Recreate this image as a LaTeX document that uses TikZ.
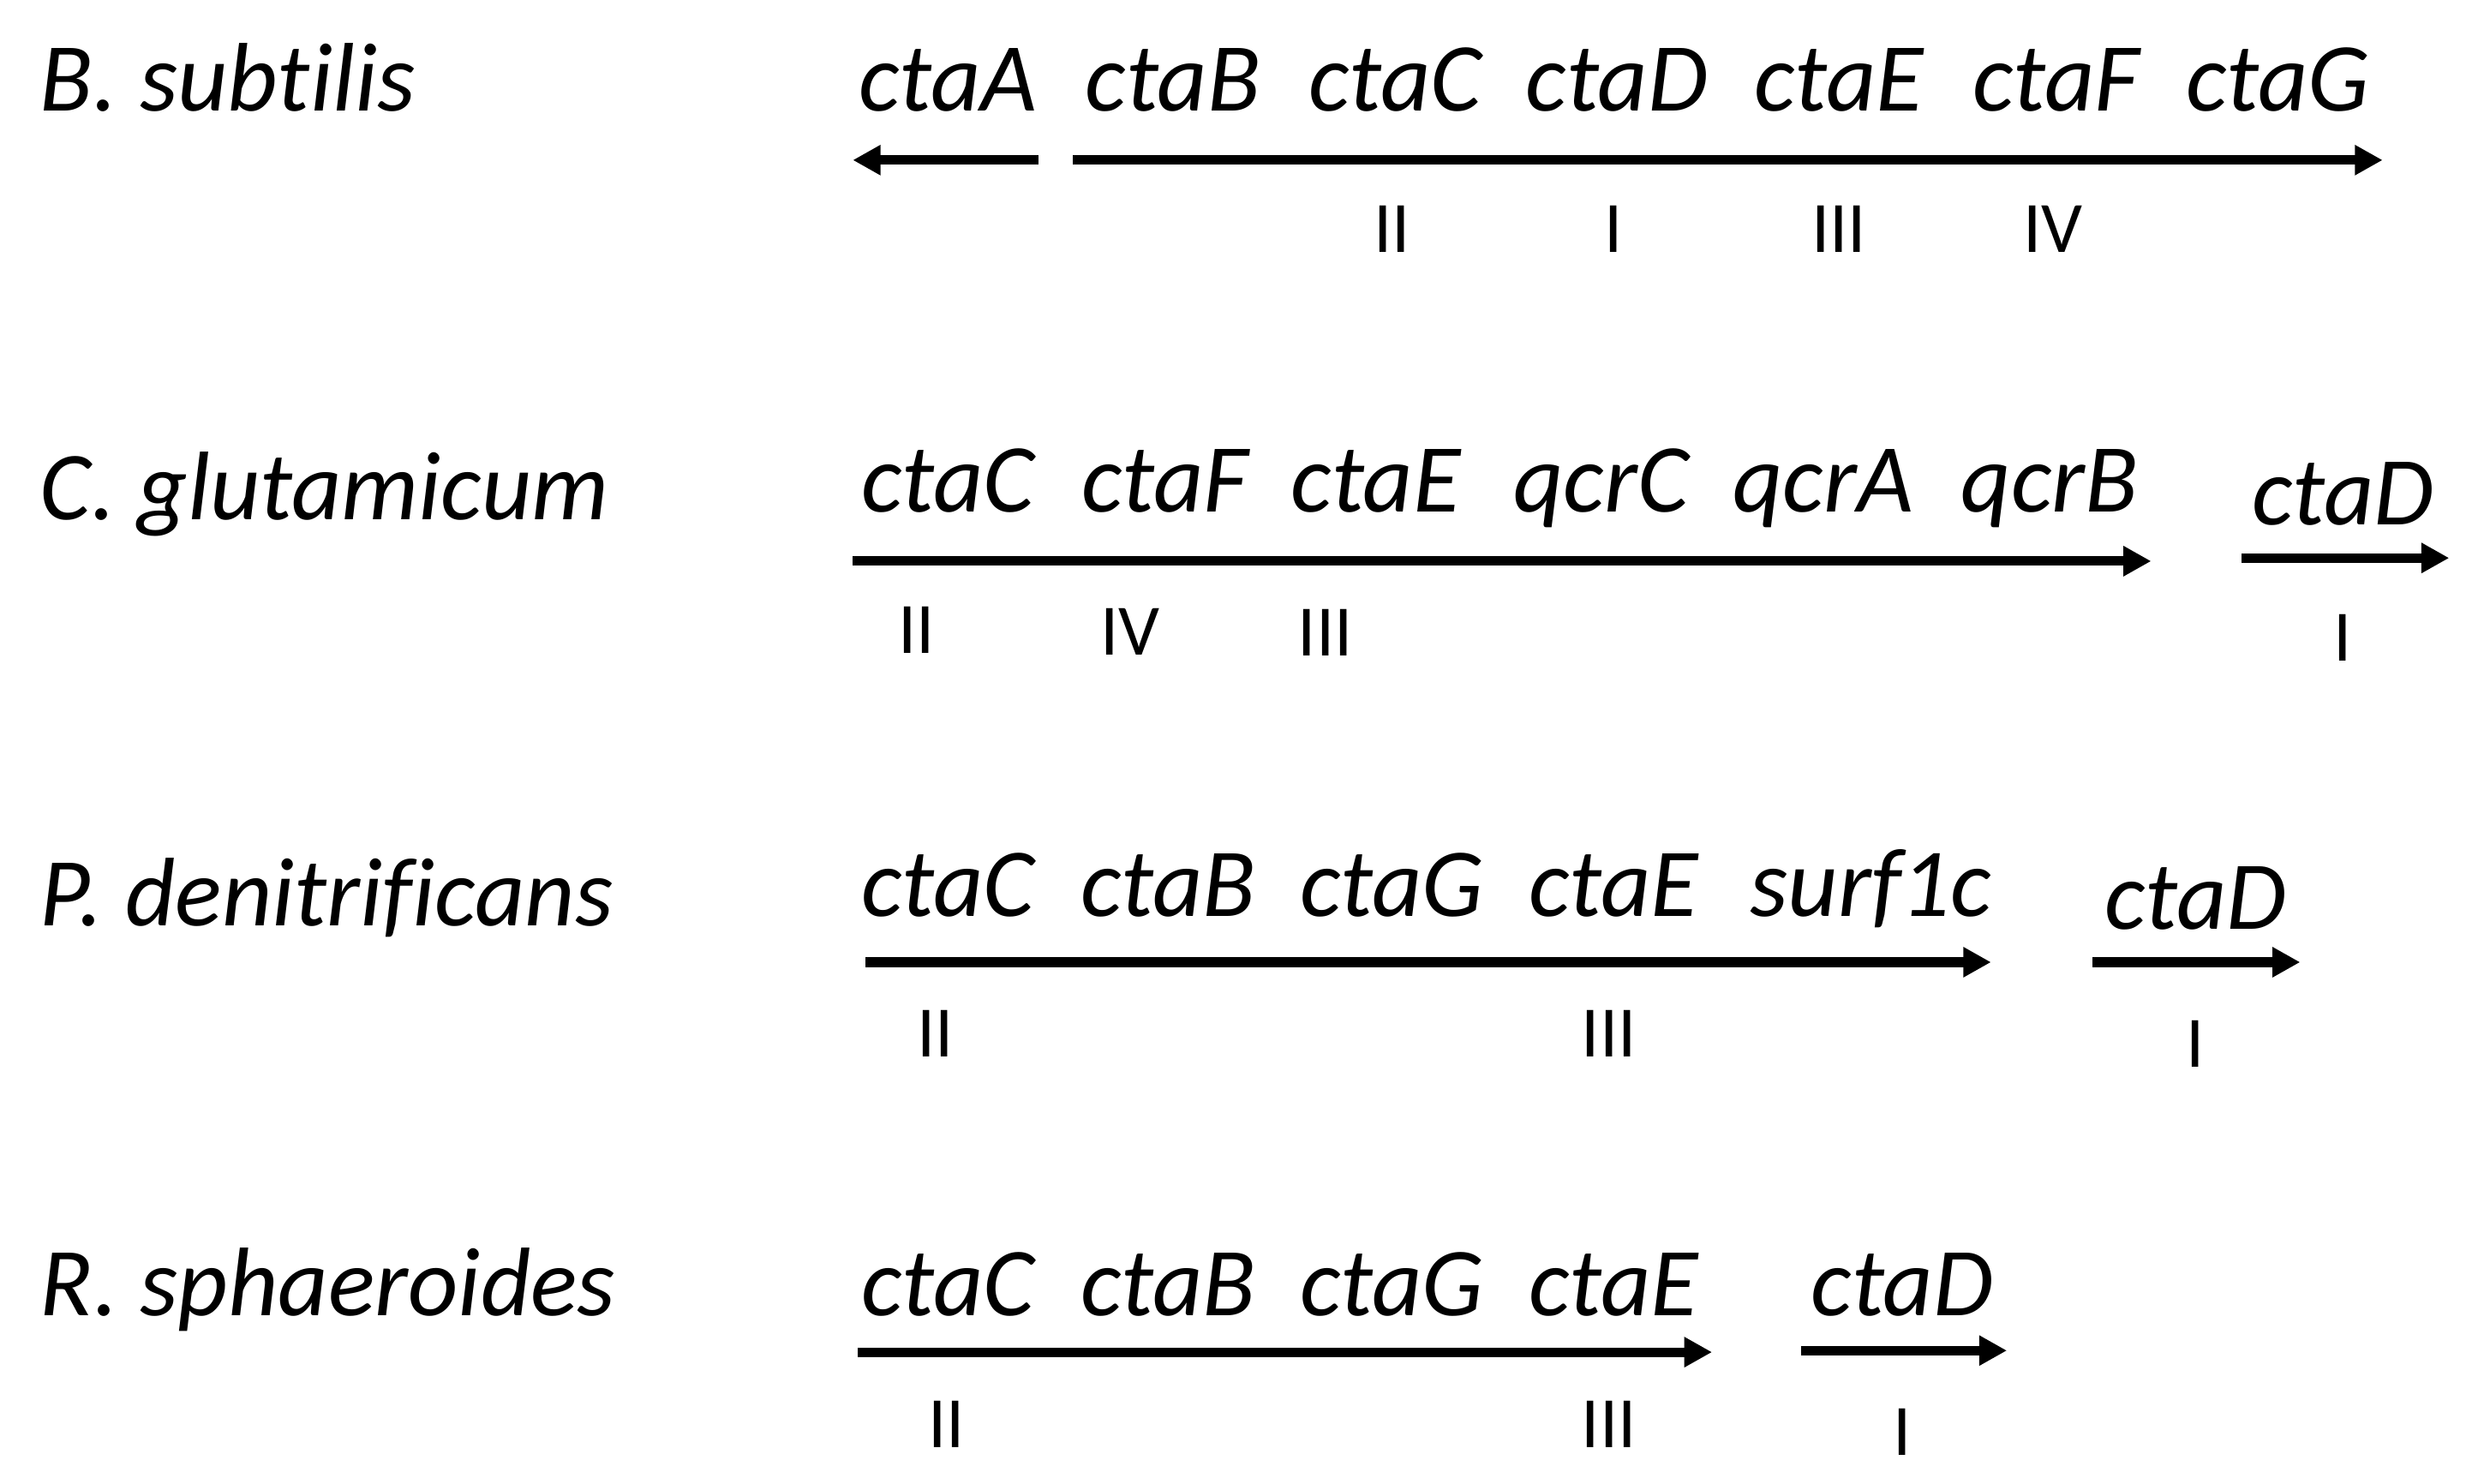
\documentclass[tikz,border=0pt]{standalone}
\usepackage{fontspec}
\setmainfont{Carlito}[Ligatures=NoCommon]
\usetikzlibrary{arrows.meta}

\begin{document}
\begin{tikzpicture}[x=0.02cm,y=-0.02cm,
    sp/.style={anchor=base west,font=\fontsize{35}{42}\selectfont\itshape,inner sep=0pt},
    gene/.style={anchor=base,font=\fontsize{35}{42}\selectfont\itshape,inner sep=0pt},
    num/.style={anchor=base,font=\fontsize{26}{31}\selectfont,inner sep=0pt},
    operon/.style={line width=3.4pt,-{Triangle[length=0.35cm,width=0.36cm]}}]
      \useasboundingbox (0,0) rectangle (1567,935.7);
      % B. subtilis
      \node[sp] (bs) at (25,70) {B. subtilis};
      \node[gene] (bsA) at (598,70) {ctaA};
      \node[gene] (bsB) at (740,70) {ctaB};
      \node[gene] (bsC) at (880,70) {ctaC};
      \node[gene] (bsD) at (1020,70) {ctaD};
      \node[gene] (bsE) at (1160,70) {ctaE};
      \node[gene] (bsF) at (1297,70) {ctaF};
      \node[gene] (bsG) at (1437,70) {ctaG};
      \node[num] (bs2) at (878,159) {II};
      \node[num] (bs1) at (1018,159) {I};
      \node[num] (bs3) at (1160,159) {III};
      \node[num] (bs4) at (1295,159) {IV};
      \coordinate (bsa1) at (655,101);
      \coordinate (bsa2) at (538,101);
      \coordinate (bsb1) at (677,101);
      \coordinate (bsb2) at (1503,101);
      \draw [operon] (bsa1) -- (bsa2);
      \draw [operon] (bsb1) -- (bsb2);
      % C. glutamicum
      \node[sp] (cg) at (25,328) {C. glutamicum};
      \node[gene] (cgC) at (598,323) {ctaC};
      \node[gene] (cgF) at (735,323) {ctaF};
      \node[gene] (cgE) at (868,323) {ctaE};
      \node[gene] (cgqC) at (1010,323) {qcrC};
      \node[gene] (cgqA) at (1150,323) {qcrA};
      \node[gene] (cgqB) at (1293,323) {qcrB};
      \node[gene] (cgD) at (1478,331) {ctaD};
      \node[num] (cg2) at (578,412) {II};
      \node[num] (cg4) at (713,413) {IV};
      \node[num] (cg3) at (836,414) {III};
      \node[num] (cg1) at (1478,417) {I};
      \coordinate (cga1) at (538,354);
      \coordinate (cga2) at (1357,354);
      \coordinate (cgb1) at (1414,352);
      \coordinate (cgb2) at (1545,352);
      \draw [operon] (cga1) -- (cga2);
      \draw [operon] (cgb1) -- (cgb2);
      % P. denitrificans
      \node[sp] (pd) at (25,584) {P. denitrificans};
      \node[gene] (pdC) at (598,578) {ctaC};
      \node[gene] (pdB) at (737,578) {ctaB};
      \node[gene] (pdG) at (878,578) {ctaG};
      \node[gene] (pdE) at (1018,578) {ctaE};
      \node[gene] (pdS) at (1180,578) {surf1c};
      \node[gene] (pdD) at (1385,586) {ctaD};
      \node[num] (pd2) at (590,667) {II};
      \node[num] (pd3) at (1015,667) {III};
      \node[num] (pd1) at (1385,673) {I};
      \coordinate (pda1) at (546,607);
      \coordinate (pda2) at (1256,607);
      \coordinate (pdb1) at (1320,607);
      \coordinate (pdb2) at (1451,607);
      \draw [operon] (pda1) -- (pda2);
      \draw [operon] (pdb1) -- (pdb2);
      % R. sphaeroides
      \node[sp] (rs) at (25,830) {R. sphaeroides};
      \node[gene] (rsC) at (598,830) {ctaC};
      \node[gene] (rsB) at (737,830) {ctaB};
      \node[gene] (rsG) at (878,830) {ctaG};
      \node[gene] (rsE) at (1018,830) {ctaE};
      \node[gene] (rsD) at (1200,830) {ctaD};
      \node[num] (rs2) at (597,913) {II};
      \node[num] (rs3) at (1015,913) {III};
      \node[num] (rs1) at (1200,918) {I};
      \coordinate (rsa1) at (541,853);
      \coordinate (rsa2) at (1080,853);
      \coordinate (rsb1) at (1136,852);
      \coordinate (rsb2) at (1266,852);
      \draw [operon] (rsa1) -- (rsa2);
      \draw [operon] (rsb1) -- (rsb2);
\end{tikzpicture}
\end{document}
